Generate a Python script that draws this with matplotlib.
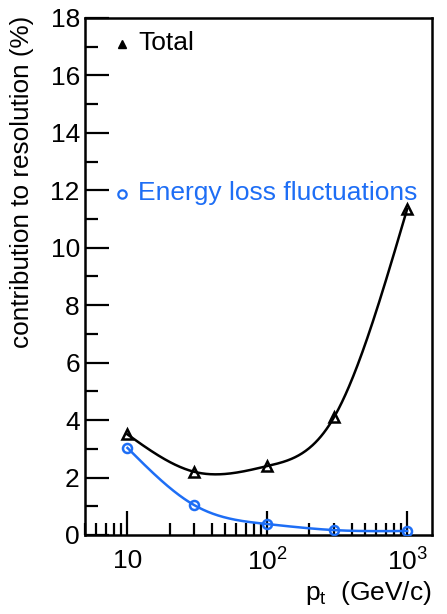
import numpy as np
import matplotlib
matplotlib.use("Agg")
import matplotlib.pyplot as plt
from matplotlib.ticker import FixedLocator, FixedFormatter, MultipleLocator

plt.rcParams["font.family"] = ["Liberation Sans", "DejaVu Sans"]
plt.rcParams["mathtext.fontset"] = "custom"
plt.rcParams["mathtext.rm"] = "Liberation Sans"
plt.rcParams["mathtext.it"] = "Liberation Sans"

# momentum points (GeV/c)
pt = [10, 30, 100, 300, 1000]
# contributions to resolution (%)
total = [3.5, 2.2, 2.4, 4.1, 11.35]
eloss = [3.03, 1.04, 0.38, 0.17, 0.14]

x_major = [10, 100, 1000]
x_major_labels = ["10", r"$\mathregular{10^2}$", r"$\mathregular{10^3}$"]

BLUE = "#1E6EF5"


def natural_spline(u, y, uu):
    u = np.asarray(u, float)
    y = np.asarray(y, float)
    n = len(u)
    h = np.diff(u)
    A = np.zeros((n, n))
    r = np.zeros(n)
    A[0, 0] = A[-1, -1] = 1.0
    for i in range(1, n - 1):
        A[i, i - 1] = h[i - 1]
        A[i, i] = 2 * (h[i - 1] + h[i])
        A[i, i + 1] = h[i]
        r[i] = 6 * ((y[i + 1] - y[i]) / h[i] - (y[i] - y[i - 1]) / h[i - 1])
    M = np.linalg.solve(A, r)
    out = np.empty_like(uu)
    for k, t in enumerate(uu):
        i = min(max(np.searchsorted(u, t) - 1, 0), n - 2)
        a = u[i + 1] - t
        b = t - u[i]
        out[k] = (M[i] * a ** 3 + M[i + 1] * b ** 3) / (6 * h[i]) \
            + (y[i] / h[i] - M[i] * h[i] / 6) * a \
            + (y[i + 1] / h[i] - M[i + 1] * h[i] / 6) * b
    return out


fig = plt.figure(figsize=(4.47, 6.14), dpi=100)
ax = fig.add_axes([0.191, 0.1287, 0.775, 0.842])

u = np.log10(pt)
uu = np.linspace(u[0], u[-1], 400)
xx = 10 ** uu

ax.plot(xx, natural_spline(u, total, uu), color="black", lw=1.8, zorder=2)
ax.plot(xx, natural_spline(u, eloss, uu), color=BLUE, lw=1.8, zorder=2)
ax.plot(pt, total, linestyle="none", marker="^", ms=7, mfc="none",
        mec="black", mew=1.8, zorder=3)
ax.plot(pt, eloss, linestyle="none", marker="o", ms=6.5, mfc="none",
        mec=BLUE, mew=1.8, zorder=3)

ax.set_xscale("log")
ax.set_xlim(5, 1500)
ax.set_ylim(0, 18)

ax.xaxis.set_major_locator(FixedLocator(x_major))
ax.xaxis.set_major_formatter(FixedFormatter(x_major_labels))
minor_x = [m * d for d in (1, 10, 100) for m in range(2, 10) if 5 <= m * d <= 1500]
ax.xaxis.set_minor_locator(FixedLocator(minor_x))
ax.yaxis.set_major_locator(MultipleLocator(2))
ax.yaxis.set_minor_locator(MultipleLocator(1))

ax.tick_params(axis="both", which="both", direction="in", top=False,
               right=False, width=1.6, labelsize=19)
ax.tick_params(axis="y", which="major", length=17, pad=4)
ax.tick_params(axis="x", which="major", length=17, pad=10)
ax.tick_params(axis="both", which="minor", length=9)
for s in ax.spines.values():
    s.set_linewidth(1.8)

fig.text(0.049, 0.975, "contribution to resolution (%)", rotation=90,
         ha="center", va="top", fontsize=18.8)
fig.text(0.966, 0.012, r"$\mathregular{p_t}$  (GeV/c)", ha="right",
         va="bottom", fontsize=19)

ax.plot([0.107], [0.9505], transform=ax.transAxes, marker="^", ms=6,
        color="black", mfc="black", clip_on=False)
ax.text(0.152, 0.952, "Total", transform=ax.transAxes, fontsize=19,
        va="center", ha="left")
ax.plot([0.107], [0.659], transform=ax.transAxes, marker="o", ms=6,
        mfc="none", mec=BLUE, mew=1.6, clip_on=False)
ax.text(0.152, 0.661, "Energy loss fluctuations", transform=ax.transAxes,
        fontsize=19, va="center", ha="left", color=BLUE)

fig.savefig("out.png", dpi=100)
